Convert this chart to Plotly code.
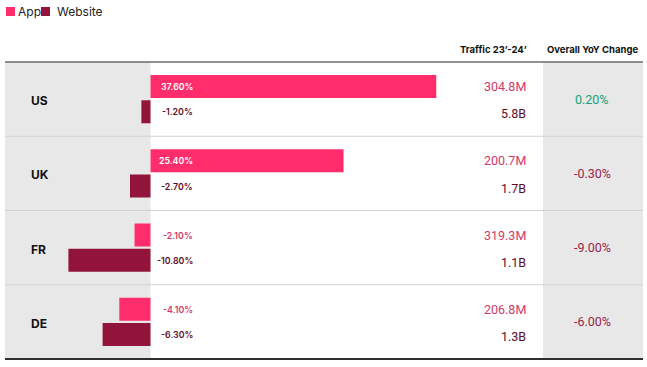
import plotly.graph_objects as go

# ---------------- data ----------------
countries = ["US", "UK", "FR", "DE"]
app_change = [37.6, 25.4, -2.1, -4.1]        # % change, App
web_change = [-1.2, -2.7, -10.8, -6.3]       # % change, Website
app_traffic = ["304.8M", "200.7M", "319.3M", "206.8M"]
web_traffic = ["5.8B", "1.7B", "1.1B", "1.3B"]
yoy_change = [0.20, -0.30, -9.00, -6.00]
series_names = ["App", "Website"]
header_traffic = "Traffic 23’-24’"
header_yoy = "Overall YoY Change"

# ---------------- styles ----------------
APP = "#FF2D6C"
WEB = "#93143A"
APP_TXT = "#D4376A"
WEB_TXT = "#5C0C27"
GREEN = "#17A079"
NEG = "#9A2349"
PANEL = "#E8E8E8"
FONT = "Inter"
NUMFONT = "Roboto"

W, H = 647, 367
ML, MR, MT, MB = 5, 4, 62, 8
zero_px = 150.5
px_per_unit = 7.6
plot_w = W - ML - MR
x_lo = -(zero_px - ML) / px_per_unit
x_hi = (W - MR - zero_px) / px_per_unit

n = len(countries)
off = 0.17
bw = 0.31
y_app = [i + 0.5 - off for i in range(n)]
y_web = [i + 0.5 + off for i in range(n)]


def px_to_paper_x(p):
    return (p - ML) / plot_w


def px_to_paper_y(p):
    return (H - MB - p) / (H - MT - MB)


fig = go.Figure()
fig.add_bar(x=app_change, y=y_app, orientation="h", width=bw,
            marker=dict(color=APP, line=dict(width=0)), name=series_names[0],
            hoverinfo="skip")
fig.add_bar(x=web_change, y=y_web, orientation="h", width=bw,
            marker=dict(color=WEB, line=dict(width=0)), name=series_names[1],
            hoverinfo="skip")

shapes = []
# grey panels
shapes.append(dict(type="rect", xref="x", yref="paper", x0=x_lo, x1=0, y0=0, y1=1,
                   fillcolor=PANEL, line=dict(width=0), layer="below"))
shapes.append(dict(type="rect", xref="paper", yref="paper", x0=px_to_paper_x(543), x1=1,
                   y0=0, y1=1, fillcolor=PANEL, line=dict(width=0), layer="below"))
# row separators
for i in range(1, n):
    shapes.append(dict(type="line", xref="paper", yref="y", x0=0, x1=1, y0=i, y1=i,
                       line=dict(color="#D2D2D2", width=1), layer="below"))
# header and bottom lines
shapes.append(dict(type="line", xref="paper", yref="paper", x0=0, x1=1, y0=1, y1=1,
                   line=dict(color="#6B6B6B", width=1.6), layer="above"))
shapes.append(dict(type="line", xref="paper", yref="paper", x0=0, x1=1, y0=0, y1=0,
                   line=dict(color="#2F2F2F", width=1.8), layer="above"))
# legend squares
for (x0p, x1p, col) in [(6, 15, APP), (41, 50, WEB)]:
    shapes.append(dict(type="rect", xref="paper", yref="paper",
                       x0=px_to_paper_x(x0p), x1=px_to_paper_x(x1p),
                       y0=px_to_paper_y(16), y1=px_to_paper_y(7),
                       fillcolor=col, line=dict(width=0)))

ann = []
# legend texts
ann.append(dict(xref="paper", yref="paper", x=px_to_paper_x(16), y=px_to_paper_y(11.5),
                text=series_names[0], showarrow=False, xanchor="left", yanchor="middle",
                font=dict(family=FONT, size=12, color="#222222")))
ann.append(dict(xref="paper", yref="paper", x=px_to_paper_x(55), y=px_to_paper_y(11.5),
                text=series_names[1], showarrow=False, xanchor="left", yanchor="middle",
                font=dict(family=FONT, size=12, color="#222222")))
# headers
ann.append(dict(xref="paper", yref="paper", x=px_to_paper_x(529), y=px_to_paper_y(50),
                text=header_traffic, showarrow=False, xanchor="right", yanchor="middle",
                font=dict(family=FONT, size=9.5, color="#111111", weight="bold")))
ann.append(dict(xref="paper", yref="paper", x=px_to_paper_x(592), y=px_to_paper_y(50),
                text=header_yoy, showarrow=False, xanchor="center", yanchor="middle",
                font=dict(family=FONT, size=9.5, color="#111111", weight="bold")))

lab_x = (195 - zero_px) / px_per_unit
for i in range(n):
    # country
    ann.append(dict(xref="paper", yref="y", x=px_to_paper_x(29), y=i + 0.52,
                    text=countries[i], showarrow=False, xanchor="left", yanchor="middle",
                    font=dict(family=FONT, size=12, color="#111111", weight="bold")))
    # bar labels
    a = app_change[i]
    ann.append(dict(xref="x", yref="y", x=lab_x, y=y_app[i], text=f"{a:.2f}%",
                    showarrow=False, xanchor="right", yanchor="middle",
                    font=dict(family=FONT, size=8.8, weight=600,
                              color="#FFFFFF" if a > 0 else APP_TXT)))
    w = web_change[i]
    ann.append(dict(xref="x", yref="y", x=lab_x, y=y_web[i], text=f"{w:.2f}%",
                    showarrow=False, xanchor="right", yanchor="middle",
                    font=dict(family=FONT, size=8.8, weight=600,
                              color="#FFFFFF" if w > 0 else WEB_TXT)))
    # traffic
    ann.append(dict(xref="paper", yref="y", x=px_to_paper_x(528), y=y_app[i],
                    text=app_traffic[i], showarrow=False, xanchor="right", yanchor="middle",
                    font=dict(family=NUMFONT, size=12.5, color=APP_TXT)))
    ann.append(dict(xref="paper", yref="y", x=px_to_paper_x(528), y=y_web[i] + 0.03,
                    text=web_traffic[i], showarrow=False, xanchor="right", yanchor="middle",
                    font=dict(family=NUMFONT, size=12.5, color=WEB_TXT)))
    # yoy
    v = yoy_change[i]
    ann.append(dict(xref="paper", yref="y", x=px_to_paper_x(592), y=i + 0.5,
                    text=f"{v:.2f}%", showarrow=False, xanchor="center", yanchor="middle",
                    font=dict(family=NUMFONT, size=12.5, color=GREEN if v > 0 else NEG)))

fig.update_layout(
    width=W, height=H,
    margin=dict(l=ML, r=MR, t=MT, b=MB, pad=0),
    paper_bgcolor="white", plot_bgcolor="white",
    showlegend=False,
    barmode="overlay",
    xaxis=dict(range=[x_lo, x_hi], showgrid=False, zeroline=False, showticklabels=False,
               showline=False, fixedrange=True),
    yaxis=dict(range=[n, 0], showgrid=False, zeroline=False, showticklabels=False,
               showline=False, fixedrange=True),
    shapes=shapes, annotations=ann,
    font=dict(family=FONT),
)

fig.write_html("out.html", config={"displayModeBar": False},
               post_script="document.body.style.margin='0px';document.body.style.padding='0px';")
